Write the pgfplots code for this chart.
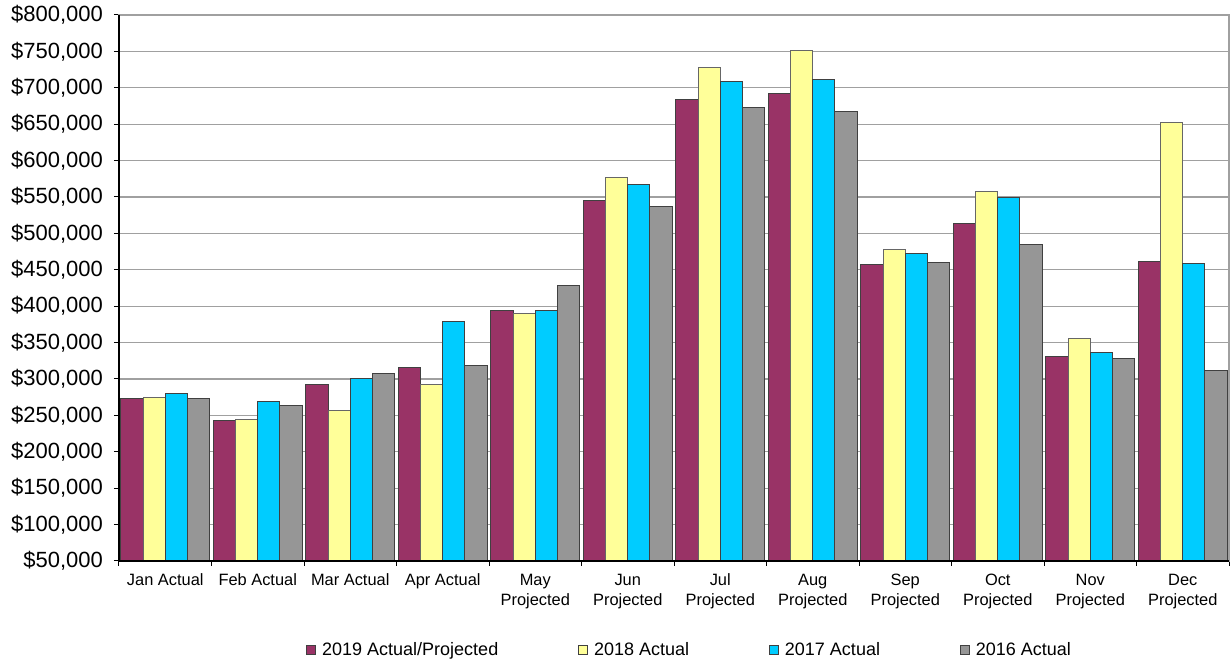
\documentclass[border=0pt]{standalone}
\usepackage{pgfplots}
\pgfplotsset{compat=1.18}
\usepackage{fontspec}
\setmainfont{Liberation Sans}
\definecolor{cM}{HTML}{993366}
\definecolor{cY}{HTML}{FFFF99}
\definecolor{cC}{HTML}{00CCFF}
\definecolor{cG}{HTML}{969696}
\definecolor{gridc}{HTML}{A0A0A0}
\pgfplotsset{legsq/.style={legend image code/.code={\draw[##1,draw=black!75,line width=0.5pt] (0pt,-2.2pt) rectangle (4.4pt,2.2pt);}}}
\begin{document}
\begin{tikzpicture}
\useasboundingbox (-59.5pt,-50.5pt) rectangle (556pt,280.5pt);
\begin{axis}[
  scale only axis, width=555pt, height=273pt,
  ybar=0pt, bar width=0.24,
  xmin=-0.5, xmax=11.5, ymin=50000, ymax=800000,
  ytick={50000,100000,...,800000},
  scaled y ticks=false,
  /pgf/number format/assume math mode=true,
  /pgf/number format/.cd, fixed, precision=0, 1000 sep={,}, /pgfplots/.cd,
  yticklabel={\$\pgfmathprintnumber{\tick}},
  yticklabel style={font=\fontsize{11}{13}\selectfont, xshift=-2pt},
  xtick={-0.5,0.5,...,11.5}, xticklabels={},
  extra x ticks={0,1,2,3,4,5,6,7,8,9,10,11},
  extra x tick labels={Jan Actual,Feb Actual,Mar Actual,Apr Actual,{May\\Projected},{Jun\\Projected},{Jul\\Projected},{Aug\\Projected},{Sep\\Projected},{Oct\\Projected},{Nov\\Projected},{Dec\\Projected}},
  extra x tick style={major tick length=0pt, grid=none},
  xticklabel style={font=\fontsize{8.2}{10}\selectfont, align=center, yshift=-3pt},
  tick align=outside, major tick length=2.5pt,
  tick style={black, line width=0.5pt},
  xtick pos=bottom, ytick pos=left,
  ymajorgrids, grid style={gridc, line width=0.6pt},
  axis line style={gridc, line width=0.6pt},
  axis on top=false,
  legend columns=4,
  legend style={draw=none, fill=none, at={(0.5150,-0.163)}, anchor=center,
    font=\fontsize{9}{11}\selectfont,
    /tikz/every odd column/.append style={column sep=1pt},
    /tikz/every even column/.append style={column sep=38pt}},
  after end axis/.code={\draw[black, line width=0.7pt] (rel axis cs:0,1) -- (rel axis cs:0,0) -- (rel axis cs:1,0);},
]
\addplot[fill=cM, draw=black!75, line width=0.5pt, legsq] coordinates {
(0,273500) (1,243000) (2,292700) (3,316000) (4,394300) (5,545800)
(6,683400) (7,691700) (8,457800) (9,514000) (10,331000) (11,461400)};
\addplot[fill=cY, draw=black!60, line width=0.5pt, legsq] coordinates {
(0,275000) (1,244600) (2,257000) (3,292700) (4,390000) (5,577400)
(6,728400) (7,751700) (8,477900) (9,558000) (10,356000) (11,651800)};
\addplot[fill=cC, draw=black!75, line width=0.5pt, legsq] coordinates {
(0,280000) (1,269000) (2,301000) (3,379000) (4,394300) (5,566700)
(6,708000) (7,711200) (8,472900) (9,549800) (10,336500) (11,459000)};
\addplot[fill=cG, draw=black!75, line width=0.5pt, legsq] coordinates {
(0,273500) (1,264000) (2,307800) (3,318800) (4,429000) (5,537500)
(6,672700) (7,668000) (8,460500) (9,485200) (10,328700) (11,312000)};
\legend{2019 Actual/Projected,2018 Actual,2017 Actual,2016 Actual}
\end{axis}
\end{tikzpicture}
\end{document}
